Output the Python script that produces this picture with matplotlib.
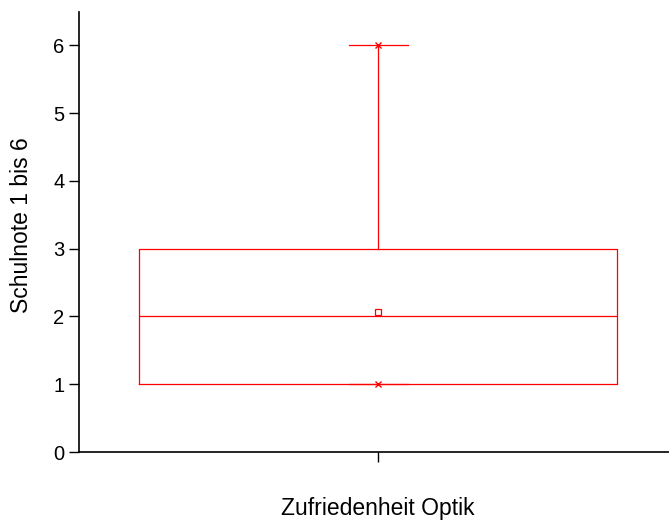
#!/usr/bin/env python3

import numpy as np
from matplotlib import pyplot as plt

plt.rcParams['font.family'] = ['Liberation Sans', 'DejaVu Sans']

# Kennwerte der Verteilung (Schulnoten)
label = 'Zufriedenheit Optik'
q1, median, q3 = 1, 2, 3
minimum, maximum = 1, 6
mean = 2.06
yticks = [0, 1, 2, 3, 4, 5, 6]

red = '#ff0000'

fig = plt.figure(figsize=(6.69, 5.25), dpi=100)
ax = fig.add_axes([0.118, 0.139, 0.882, 0.838])

stats = [dict(med=median, q1=q1, q3=q3, whislo=minimum, whishi=maximum,
              mean=mean, fliers=[], label=label)]
ax.bxp(stats, positions=[1], widths=0.81, capwidths=0.1, showmeans=True,
       boxprops=dict(color=red, linewidth=0.9),
       whiskerprops=dict(color=red, linewidth=0.9),
       capprops=dict(color=red, linewidth=0.9),
       medianprops=dict(color=red, linewidth=0.9),
       meanprops=dict(marker='s', markersize=4, markerfacecolor='none',
                      markeredgecolor=red, markeredgewidth=0.9))

# Min/Max als Kreuze an den Whisker-Enden
ax.plot([1, 1], [minimum, maximum], linestyle='none', marker='x',
        markersize=5, color=red, markeredgewidth=1.0)

ax.set_xlim(0.493, 1.493)
ax.set_ylim(0, 6.49)
ax.set_yticks(yticks)
ax.set_xticks([1])
ax.set_xticklabels([''])
ax.set_xlabel(label, fontsize=16.5)
ax.set_ylabel('Schulnote 1 bis 6', fontsize=16.5)
ax.xaxis.set_label_coords(0.507, -0.103)
ax.yaxis.set_label_coords(-0.078, 0.516)

for s in ['top', 'right']:
    ax.spines[s].set_visible(False)
ax.spines['left'].set_linewidth(1.2)
ax.spines['bottom'].set_linewidth(1.2)
ax.tick_params(axis='y', length=7.5, width=1, labelsize=14.5, pad=3)
ax.tick_params(axis='x', length=7, width=1)

fig.savefig('out.png', dpi=100)
